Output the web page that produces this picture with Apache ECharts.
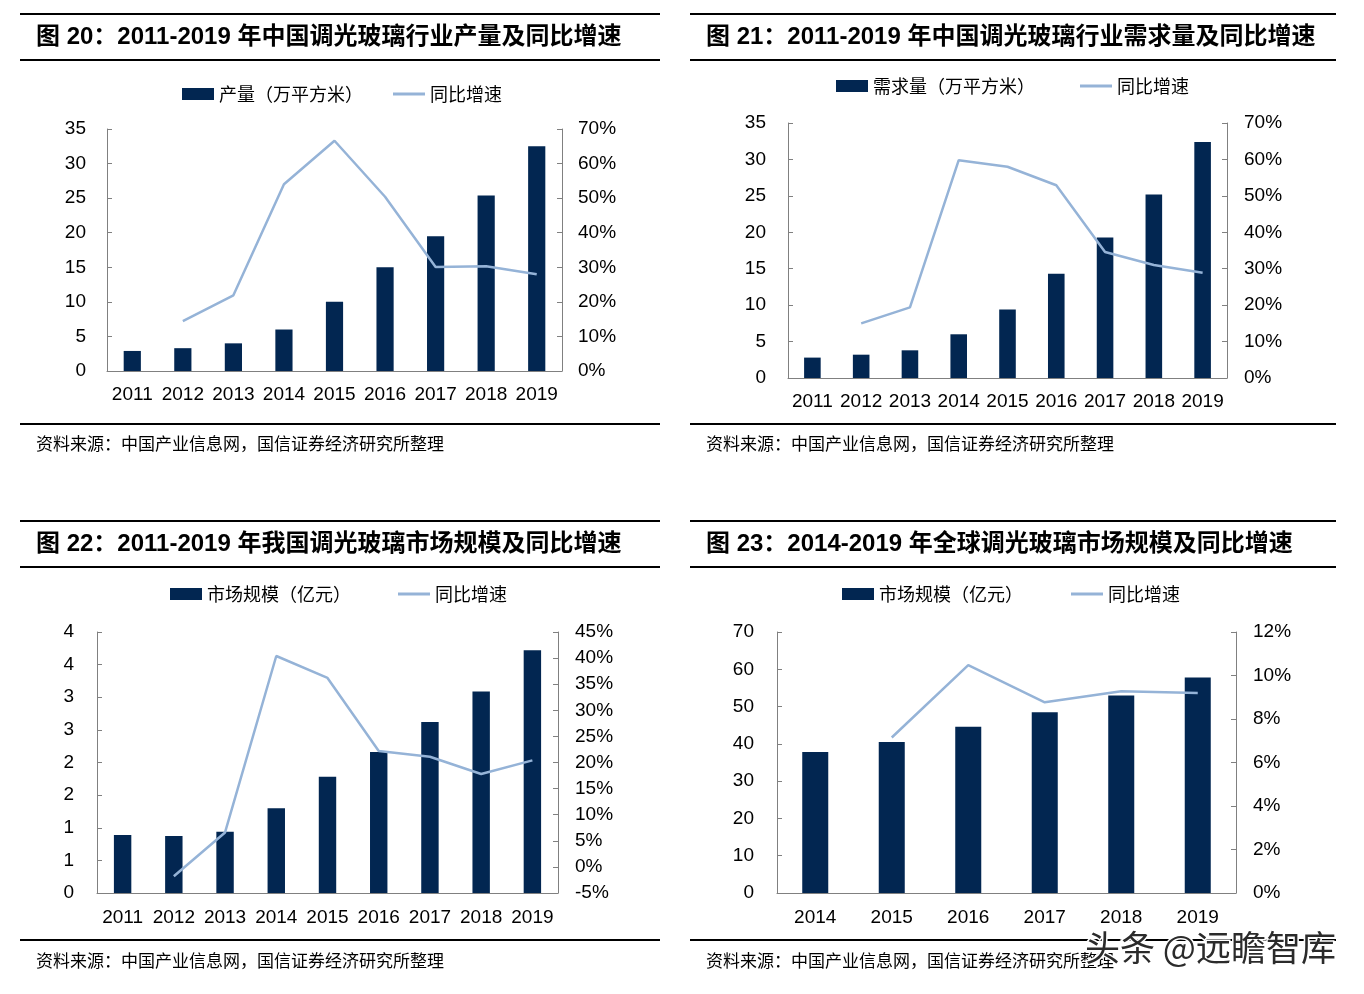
<!DOCTYPE html>
<html>
<head>
<meta charset="utf-8">
<script src="https://cdn.jsdelivr.net/npm/echarts@6/dist/echarts.min.js"></script>
<style>
html,body{margin:0;padding:0;background:#fff;}
#c{width:1364px;height:994px;}
</style>
</head>
<body>
<div id="c"></div>
<script>
// ---- data ----
const years9 = ['2011','2012','2013','2014','2015','2016','2017','2018','2019'];
const years6 = ['2014','2015','2016','2017','2018','2019'];
const production = [2.9, 3.3, 4.0, 6.0, 10.0, 15.0, 19.5, 25.4, 32.5];
const productionGrowth = [null, 14.4, 21.9, 54.0, 66.6, 50.4, 30.1, 30.3, 28.0];
const demand = [2.8, 3.2, 3.8, 6.0, 9.4, 14.3, 19.3, 25.2, 32.4];
const demandGrowth = [null, 15.0, 19.4, 59.8, 58.0, 52.9, 34.6, 31.0, 28.9];
const chinaMarket = [0.89, 0.875, 0.94, 1.30, 1.78, 2.16, 2.62, 3.09, 3.72];
const chinaMarketGrowth = [null, -1.8, 6.6, 40.4, 36.2, 22.2, 21.1, 17.8, 20.4];
const globalMarket = [37.8, 40.5, 44.6, 48.5, 53.0, 57.8];
const globalMarketGrowth = [null, 7.15, 10.48, 8.77, 9.28, 9.2];

const titles = [
  '图 20：2011-2019 年中国调光玻璃行业产量及同比增速',
  '图 21：2011-2019 年中国调光玻璃行业需求量及同比增速',
  '图 22：2011-2019 年我国调光玻璃市场规模及同比增速',
  '图 23：2014-2019 年全球调光玻璃市场规模及同比增速'
];
const barNames = ['产量（万平方米）', '需求量（万平方米）', '市场规模（亿元）', '市场规模（亿元）'];
const lineName = '同比增速';
const sourceText = '资料来源：中国产业信息网，国信证券经济研究所整理';

// ---- styles ----
const BAR = '#022651';
const LINE = '#95B3D7';
const AXIS = '#808080';
const NUM_FONT = '"Liberation Sans", Arial, sans-serif';
const CJK_FONT = '"Noto Sans CJK SC", sans-serif';

const panels = [
  {cats: years9, bar: production, line: productionGrowth,
   grid: {left:107, right:1364-562, top:129, bottom:994-371},
   l: {min:0, max:35, interval:5}, r: {min:0, max:70, interval:10},
   leg: [[182, 95], [393, 95]], lm: 21, rm: 16, xm: 14},
  {cats: years9, bar: demand, line: demandGrowth,
   grid: {left:788, right:1364-1227, top:123, bottom:994-378},
   l: {min:0, max:35, interval:5}, r: {min:0, max:70, interval:10},
   leg: [[836, 87], [1080, 87]], lm: 22, rm: 17, xm: 14},
  {cats: years9, bar: chinaMarket, line: chinaMarketGrowth,
   grid: {left:97, right:1364-558, top:632, bottom:994-893},
   l: {min:0, max:4, interval:0.5, fmt: v => String(Math.round(v))}, r: {min:-5, max:45, interval:5},
   leg: [[170, 595], [398, 595]], lm: 23, rm: 17, xm: 15},
  {cats: years6, bar: globalMarket, line: globalMarketGrowth,
   grid: {left:777, right:1364-1236, top:632, bottom:994-893},
   l: {min:0, max:70, interval:10}, r: {min:0, max:12, interval:2},
   leg: [[842, 595], [1071, 595]], lm: 23, rm: 17, xm: 15}
];

const grid = [], xAxis = [], yAxis = [], series = [], legend = [];
panels.forEach((p, i) => {
  grid.push(Object.assign({containLabel:false}, p.grid));
  xAxis.push({
    gridIndex: i, type: 'category', data: p.cats,
    axisTick: {show: false},
    axisLine: {lineStyle: {color: AXIS, width: 1}},
    axisLabel: {interval: 0, color: '#000', fontSize: 19, fontFamily: NUM_FONT, margin: p.xm}
  });
  yAxis.push({
    gridIndex: i, type: 'value', position: 'left',
    min: p.l.min, max: p.l.max, interval: p.l.interval,
    axisLine: {show: true, lineStyle: {color: AXIS, width: 1}},
    axisTick: {show: true, inside: true, length: 5, lineStyle: {color: AXIS}},
    splitLine: {show: false},
    axisLabel: {color: '#000', fontSize: 19, fontFamily: NUM_FONT, margin: p.lm,
      formatter: p.l.fmt ? p.l.fmt : (v => String(v))}
  });
  yAxis.push({
    gridIndex: i, type: 'value', position: 'right',
    min: p.r.min, max: p.r.max, interval: p.r.interval,
    axisLine: {show: true, lineStyle: {color: AXIS, width: 1}},
    axisTick: {show: true, inside: true, length: 5, lineStyle: {color: AXIS}},
    splitLine: {show: false},
    axisLabel: {color: '#000', fontSize: 19, fontFamily: NUM_FONT, margin: p.rm, formatter: '{value}%'}
  });
  series.push({
    type: 'bar', name: barNames[i], xAxisIndex: i, yAxisIndex: 2*i,
    data: p.bar, barCategoryGap: '66%', itemStyle: {color: BAR}
  });
  series.push({
    type: 'line', name: lineName, xAxisIndex: i, yAxisIndex: 2*i+1,
    data: p.line, symbol: 'none', showSymbol: false, connectNulls: false,
    lineStyle: {color: LINE, width: 2.5}, itemStyle: {color: LINE}, z: 5
  });
  legend.push({
    data: [{name: barNames[i], icon: 'rect'}], left: p.leg[0][0], top: p.leg[0][1] - 10,
    itemWidth: 32, itemHeight: 12, padding: 0, selectedMode: false,
    textStyle: {fontSize: 18, fontFamily: CJK_FONT, color: '#000'}
  });
  legend.push({
    data: [{name: lineName, icon: 'rect'}], left: p.leg[1][0], top: p.leg[1][1] - 10,
    itemWidth: 32, itemHeight: 3, padding: 0, selectedMode: false,
    itemStyle: {color: LINE},
    textStyle: {fontSize: 18, fontFamily: CJK_FONT, color: '#000'}
  });
});

const graphic = [];
const blocks = [
  {x1: 20, x2: 660, top: 14, mid: 60, bot: 424, tx: 36, ty: 37, sy: 444},
  {x1: 690, x2: 1336, top: 14, mid: 60, bot: 424, tx: 706, ty: 37, sy: 444},
  {x1: 20, x2: 660, top: 521, mid: 567, bot: 940, tx: 36, ty: 544, sy: 961},
  {x1: 690, x2: 1336, top: 521, mid: 567, bot: 940, tx: 706, ty: 544, sy: 961}
];
blocks.forEach((b, i) => {
  [b.top, b.mid, b.bot].forEach(y => graphic.push({
    type: 'line', shape: {x1: b.x1, y1: y, x2: b.x2, y2: y},
    style: {stroke: '#000', lineWidth: 2}, silent: true
  }));
  graphic.push({
    type: 'text', x: b.tx, y: b.ty, silent: true,
    style: {text: titles[i], fill: '#000', fontSize: 24, fontWeight: 'bold',
      fontFamily: '"Liberation Sans", "Noto Sans CJK SC", sans-serif', verticalAlign: 'middle'}
  });
  graphic.push({
    type: 'text', x: b.tx, y: b.sy, silent: true,
    style: {text: sourceText, fill: '#000', fontSize: 17, fontFamily: CJK_FONT, verticalAlign: 'middle'}
  });
});
graphic.push({
  type: 'text', x: 1085, y: 948, silent: true, z: 100,
  style: {text: '头条 @远瞻智库', fill: '#2b2b2b', stroke: '#fff', lineWidth: 3,
    fontSize: 35, fontFamily: CJK_FONT, verticalAlign: 'middle'}
});

const chart = echarts.init(document.getElementById('c'), null, {renderer: 'canvas'});
chart.setOption({
  animation: false,
  backgroundColor: '#fff',
  grid, xAxis, yAxis, series, legend, graphic
});
</script>
</body>
</html>
